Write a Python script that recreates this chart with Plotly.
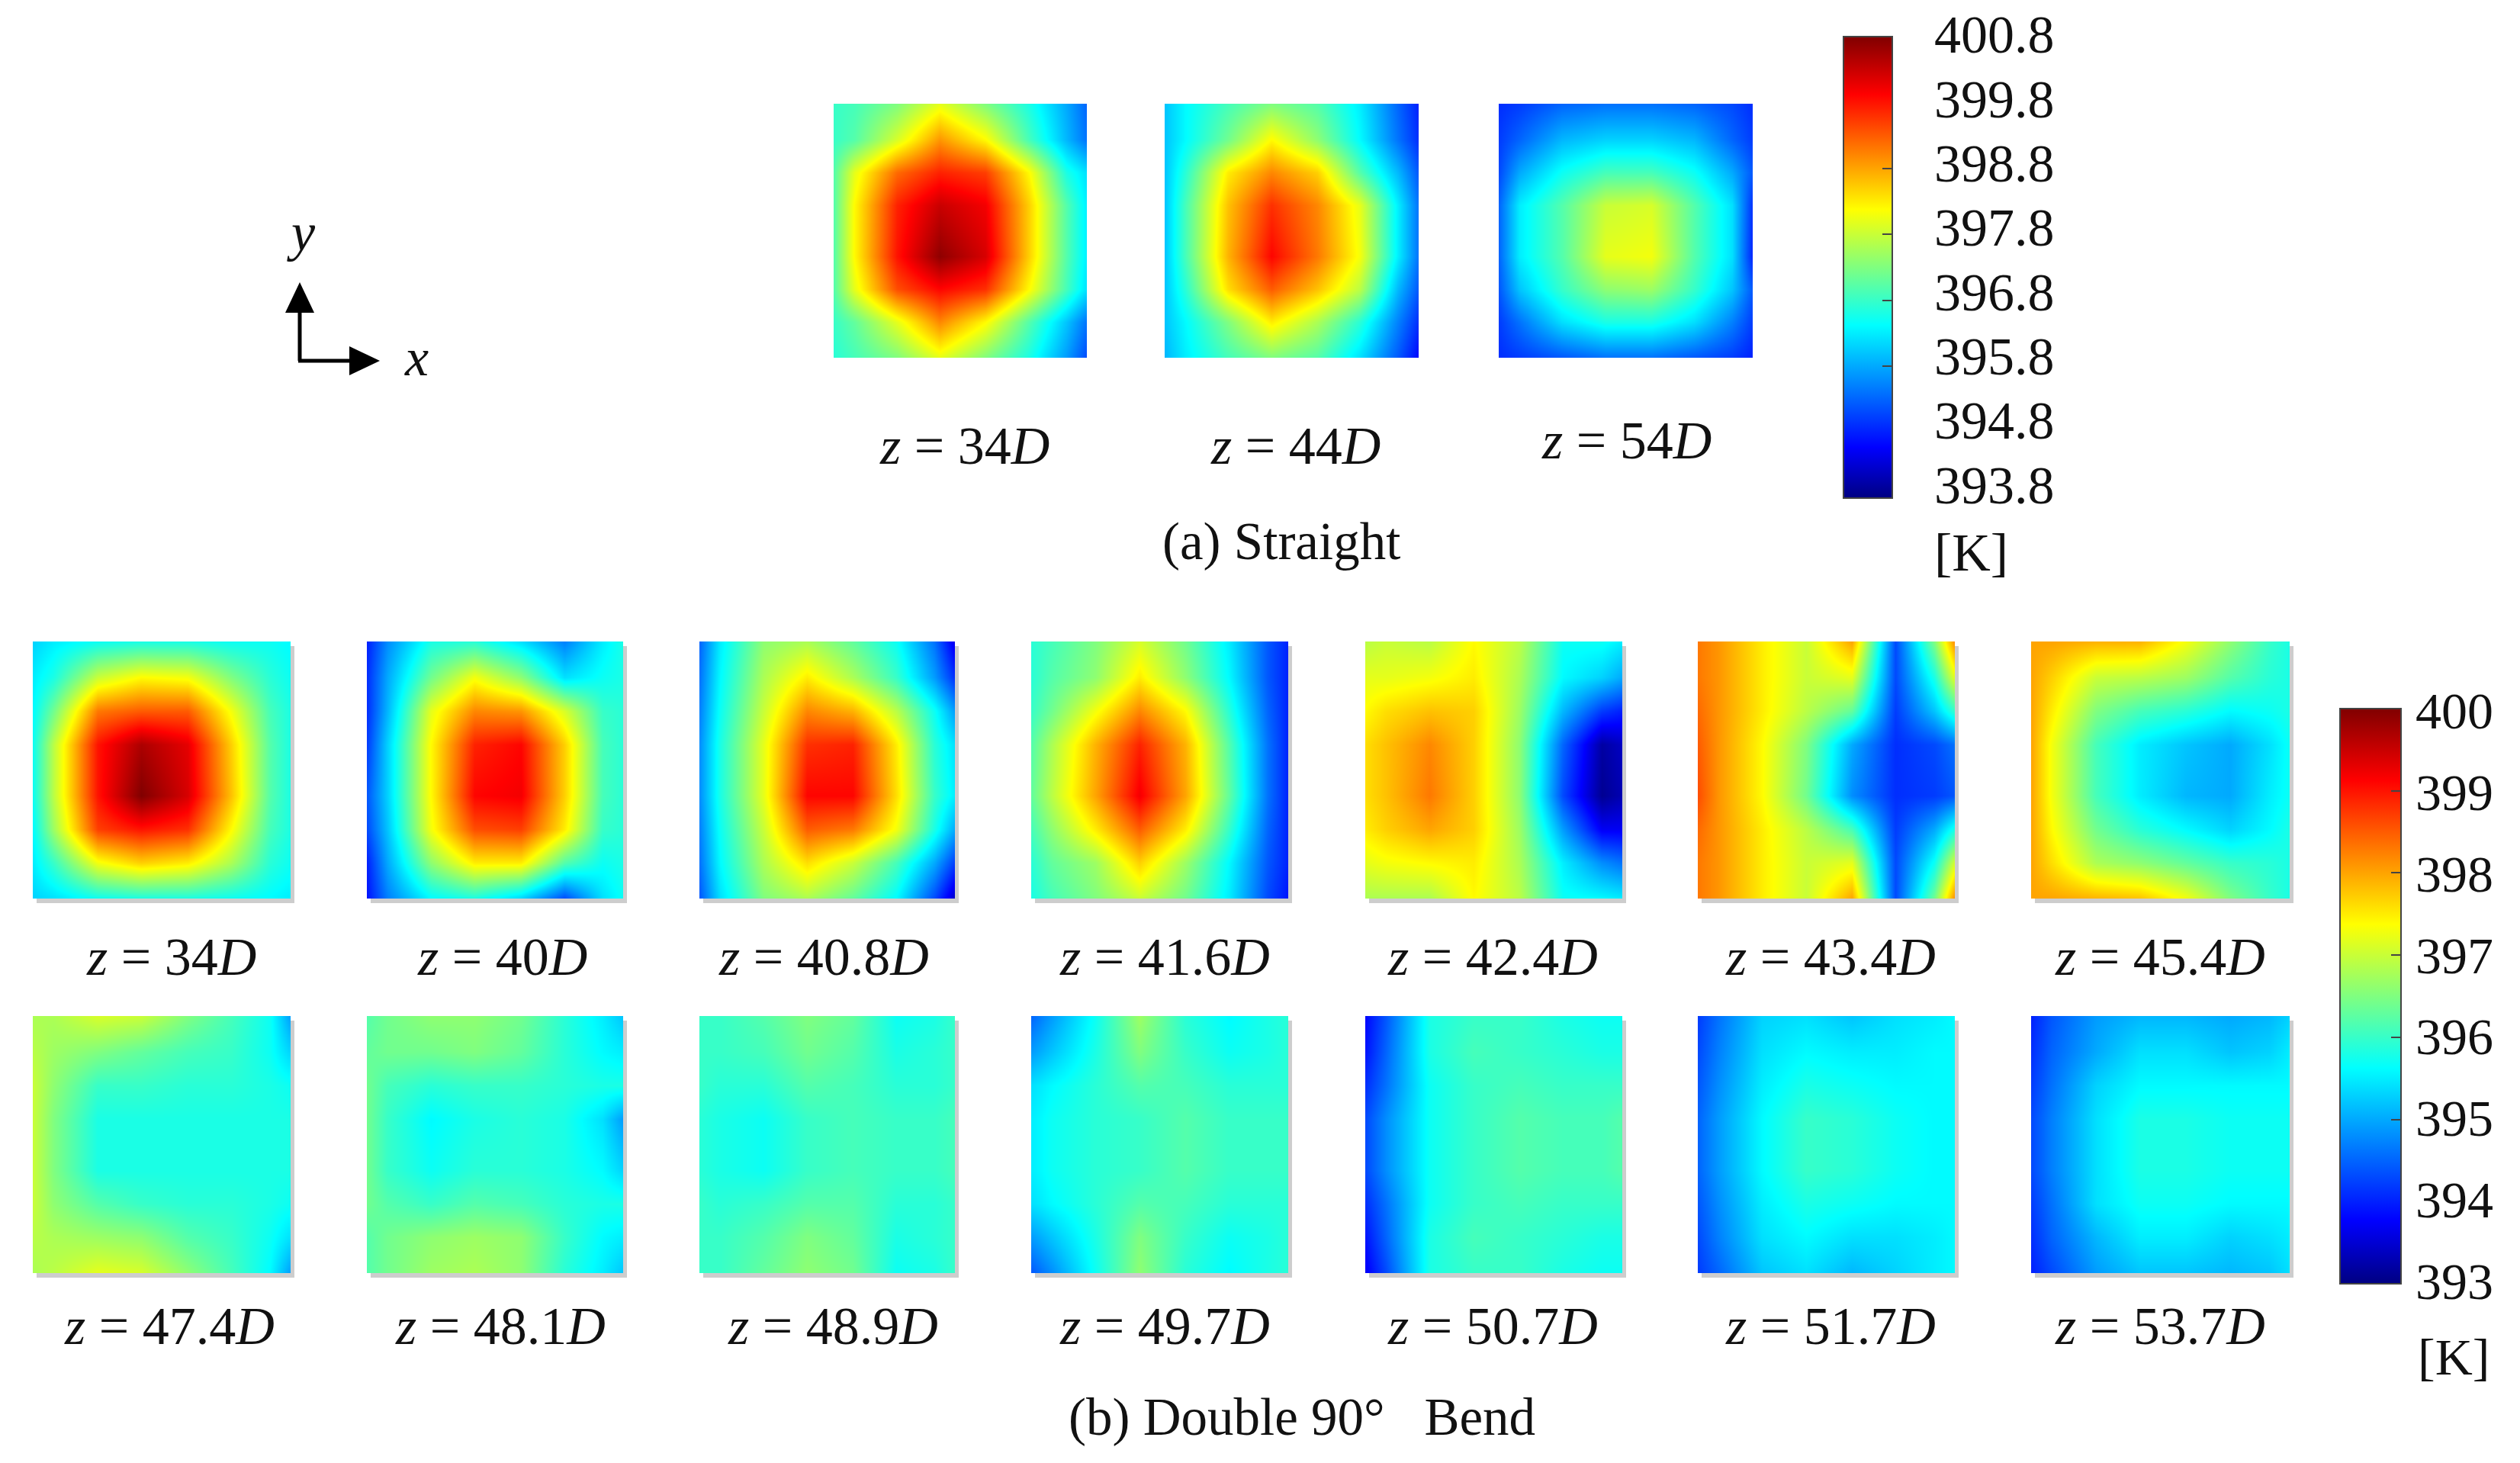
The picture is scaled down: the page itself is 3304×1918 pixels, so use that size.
import plotly.graph_objects as go

W, H = 3304, 1918

# Sampling positions across each cross-section (fractions of the width / height)
X_GRID = [0, .08, .25, .42, .6, .77, .92, 1]
Y_GRID = [0, .14, .27, .4, .6, .73, .86, 1]

# ---------- (a) Straight, temperature in K ----------
S_34 = [
 [396.8,396.9,397.3,398.0,397.3,396.6,395.8,395.3],
 [396.8,397.0,397.9,398.9,398.2,396.9,395.9,395.4],
 [397.0,398.0,399.2,399.7,399.5,398.2,396.6,396.2],
 [397.0,398.2,399.7,400.3,400.0,398.5,397.0,396.3],
 [397.0,398.2,399.8,400.7,400.2,398.5,397.0,396.3],
 [397.0,398.0,399.4,399.9,399.6,398.2,396.9,396.2],
 [396.8,397.1,398.0,399.0,398.2,397.0,396.0,395.4],
 [396.7,396.9,397.3,398.0,397.3,396.6,395.7,395.1]]
S_44 = [
 [396.0,396.4,396.9,397.3,397.0,396.3,395.3,394.8],
 [396.0,396.4,397.2,398.2,397.4,396.4,395.4,394.9],
 [396.0,396.7,398.3,399.0,398.5,397.0,395.9,395.2],
 [396.0,396.9,398.6,399.6,399.0,398.0,396.3,395.4],
 [396.0,396.9,398.7,399.9,399.1,398.1,396.3,395.4],
 [396.0,396.7,398.4,399.3,398.6,397.7,395.9,395.2],
 [396.0,396.4,397.3,398.3,397.6,396.7,395.5,394.9],
 [395.9,396.3,396.9,397.3,397.0,396.2,395.2,394.6]]
S_54 = [
 [394.9,395.0,395.3,395.4,395.4,395.3,395.1,394.9],
 [395.0,395.3,395.9,396.1,396.1,395.9,395.3,395.0],
 [395.1,395.8,396.5,396.9,396.9,396.5,395.8,395.2],
 [395.3,396.3,397.0,397.8,397.9,397.0,396.2,394.9],
 [395.3,396.3,397.0,398.0,398.1,397.0,396.2,394.8],
 [395.2,396.0,396.8,397.4,397.5,396.8,396.0,395.2],
 [395.0,395.4,396.2,396.6,396.6,396.2,395.5,395.0],
 [394.9,395.0,395.2,395.4,395.4,395.2,395.0,394.8]]

# ---------- (b) Double 90 deg bend, temperature in K ----------
B_34 = [
 [395.3,395.5,395.7,395.8,395.8,395.7,395.7,395.6],
 [395.5,395.8,397.0,397.4,397.3,396.5,395.9,395.7],
 [395.6,396.4,398.3,398.5,398.5,397.3,396.1,395.8],
 [395.7,396.9,399.0,399.7,399.3,397.7,396.2,395.8],
 [395.7,396.9,399.0,400.0,399.4,397.8,396.2,395.8],
 [395.6,396.7,398.7,399.0,398.8,397.4,396.1,395.8],
 [395.5,396.0,397.3,397.7,397.5,396.8,395.9,395.7],
 [395.3,395.4,395.7,395.8,395.8,395.7,395.6,395.5]]
B_40 = [
 [394.0,394.8,395.8,395.9,395.4,394.7,395.5,395.8],
 [394.1,395.0,396.4,397.3,396.6,395.4,395.7,395.8],
 [394.1,395.1,397.2,398.2,398.1,397.1,396.0,395.9],
 [394.2,395.3,397.4,398.9,399.1,397.7,396.1,395.9],
 [394.4,395.3,397.4,399.1,399.2,397.7,396.1,395.9],
 [394.3,395.2,397.3,398.6,398.7,397.5,396.0,395.9],
 [394.0,395.0,396.6,397.5,397.5,396.2,395.7,395.8],
 [393.9,394.7,395.6,395.8,395.3,394.3,395.4,395.7]]
B_408 = [
 [394.5,395.5,396.6,396.8,396.3,395.7,394.6,393.6],
 [394.6,395.6,396.8,397.5,396.8,396.0,394.9,394.1],
 [394.7,395.7,397.0,398.2,397.9,396.9,395.7,394.9],
 [394.8,395.8,397.2,398.8,398.9,397.5,395.9,395.4],
 [394.8,395.8,397.2,399.1,399.1,397.6,396.0,395.5],
 [394.7,395.7,397.0,398.5,398.3,397.3,395.8,395.0],
 [394.6,395.6,396.8,397.6,397.0,396.1,395.0,394.2],
 [394.4,395.4,396.5,396.8,396.3,395.6,394.3,393.4]]
B_416 = [
 [395.9,396.1,396.5,397.1,396.4,395.5,394.4,394.0],
 [395.9,396.2,396.6,397.5,396.6,395.6,394.4,394.0],
 [396.0,396.4,397.3,398.2,397.4,395.9,394.5,394.0],
 [396.2,396.8,397.9,398.9,397.9,396.2,394.6,394.0],
 [396.3,396.9,398.0,399.2,398.0,396.3,394.6,394.0],
 [396.1,396.6,397.5,398.5,397.5,396.0,394.5,394.0],
 [395.9,396.3,396.7,397.7,396.7,395.6,394.4,394.0],
 [395.8,396.1,396.5,397.0,396.4,395.5,394.3,393.9]]
B_424 = [
 [396.9,397.0,396.9,397.4,396.9,395.7,395.7,395.5],
 [397.2,397.2,397.3,397.5,396.8,395.6,395.3,395.0],
 [397.4,397.6,397.8,397.7,396.7,395.1,394.2,394.0],
 [397.6,397.8,398.2,397.7,396.6,394.5,393.2,393.4],
 [397.6,397.8,398.3,397.7,396.6,394.3,393.1,393.3],
 [397.5,397.7,398.0,397.7,396.7,394.9,393.7,393.7],
 [397.2,397.3,397.4,397.5,396.8,395.5,394.8,394.6],
 [396.8,396.8,396.8,397.4,396.9,395.7,395.6,395.5]]
B_434 = [
 [398.3,398.1,397.5,397.0,398.0,394.3,396.5,398.2],
 [398.3,398.1,397.5,397.0,397.2,394.3,395.8,397.2],
 [398.4,398.1,397.5,396.9,396.3,394.2,395.2,396.0],
 [398.5,398.1,397.4,396.5,395.0,394.1,394.3,394.6],
 [398.6,398.1,397.4,396.4,394.8,394.1,394.2,394.4],
 [398.4,398.1,397.5,396.9,396.1,394.2,395.0,395.8],
 [398.3,398.1,397.5,397.0,397.2,394.3,395.7,397.1],
 [398.3,398.1,397.5,397.0,398.0,394.3,396.4,398.2]]
B_454 = [
 [398.0,398.0,397.9,397.9,397.3,396.6,396.0,395.8],
 [398.0,397.7,397.0,396.9,396.7,396.2,395.9,395.8],
 [398.0,397.5,396.5,396.1,395.9,395.6,395.7,395.8],
 [398.0,397.3,396.1,395.5,395.2,395.0,395.4,395.7],
 [398.0,397.3,396.1,395.5,395.1,395.0,395.5,395.7],
 [398.0,397.4,396.4,395.9,395.6,395.3,395.6,395.8],
 [398.0,397.6,396.8,396.6,396.3,396.0,395.9,395.8],
 [398.0,398.0,397.9,397.8,397.3,396.5,396.0,395.8]]
B_474 = [
 [396.8,396.8,397.1,397.0,396.5,396.1,395.7,394.9],
 [396.9,396.7,396.5,396.3,396.1,396.0,395.7,395.3],
 [397.0,396.6,396.0,396.0,395.9,395.9,395.8,395.7],
 [397.0,396.5,395.8,395.8,395.8,395.8,395.8,395.8],
 [397.0,396.5,395.8,395.8,395.8,395.8,395.8,395.8],
 [397.0,396.6,396.2,396.0,395.9,395.9,395.8,395.7],
 [396.9,396.8,396.7,396.6,396.2,396.0,395.7,395.4],
 [396.8,396.9,397.2,397.1,396.6,396.1,395.6,394.9]]
B_481 = [
 [396.2,396.4,396.6,396.6,396.4,395.9,395.5,395.2],
 [396.3,396.4,396.4,396.5,396.3,395.9,395.6,395.5],
 [396.4,396.1,395.9,396.0,396.0,395.9,395.8,395.8],
 [396.4,396.0,395.6,395.8,395.9,395.8,395.4,394.9],
 [396.4,396.0,395.7,395.9,395.9,395.8,395.6,395.3],
 [396.4,396.2,396.0,396.2,396.1,395.9,395.8,395.8],
 [396.2,396.4,396.6,396.7,396.6,396.0,395.6,395.5],
 [396.2,396.4,396.7,396.8,396.6,395.9,395.5,395.2]]
B_489 = [
 [396.0,396.0,396.2,396.5,396.3,395.7,395.8,396.0],
 [396.0,396.0,396.1,396.4,396.2,395.8,395.9,396.0],
 [396.0,395.9,395.9,396.2,396.1,395.9,395.9,396.0],
 [395.9,395.8,395.7,396.0,396.1,396.0,396.0,396.1],
 [395.9,395.8,395.7,396.0,396.1,396.0,396.0,396.1],
 [396.0,395.9,396.0,396.2,396.2,395.9,395.9,396.0],
 [396.0,396.0,396.2,396.5,396.3,395.8,395.9,396.0],
 [396.0,396.0,396.3,396.6,396.4,395.7,395.8,396.0]]
B_497 = [
 [394.5,394.9,395.7,396.7,395.9,395.6,395.8,395.9],
 [394.9,395.2,395.8,396.5,396.0,395.7,395.8,395.9],
 [395.4,395.6,395.9,396.2,396.1,395.9,395.9,395.9],
 [395.5,395.7,395.9,396.0,396.2,396.0,396.0,396.0],
 [395.5,395.7,395.9,396.0,396.2,396.0,396.0,396.0],
 [395.4,395.6,395.9,396.2,396.1,395.9,395.9,395.9],
 [394.9,395.2,395.8,396.5,396.0,395.7,395.8,395.9],
 [394.4,394.8,395.7,396.6,395.9,395.6,395.8,395.9]]
B_507 = [
 [393.8,394.4,395.8,396.0,396.0,395.8,395.7,395.7],
 [393.9,394.5,395.8,396.1,396.0,395.9,395.8,395.8],
 [394.1,394.6,395.7,396.0,396.1,396.0,396.0,396.0],
 [394.3,394.8,395.7,396.0,396.2,396.1,396.1,396.2],
 [394.3,394.8,395.7,396.0,396.2,396.1,396.1,396.2],
 [394.1,394.6,395.7,396.0,396.1,396.0,396.0,396.0],
 [393.9,394.5,395.8,396.1,396.0,395.9,395.8,395.8],
 [393.7,394.3,395.8,396.0,396.0,395.8,395.7,395.7]]
B_517 = [
 [394.2,394.6,395.3,395.4,395.2,395.4,395.5,395.6],
 [394.3,394.7,395.4,395.6,395.5,395.5,395.6,395.6],
 [394.4,394.8,395.5,395.8,395.7,395.6,395.6,395.6],
 [394.5,394.9,395.6,396.0,395.9,395.7,395.6,395.6],
 [394.5,394.9,395.6,396.0,395.9,395.7,395.6,395.6],
 [394.4,394.8,395.5,395.8,395.7,395.6,395.6,395.6],
 [394.3,394.7,395.4,395.6,395.4,395.4,395.5,395.6],
 [394.2,394.5,395.2,395.4,395.1,395.3,395.5,395.6]]
B_537 = [
 [394.0,394.4,394.9,395.1,395.1,395.0,395.1,395.3],
 [394.1,394.5,395.0,395.4,395.4,395.2,395.3,395.5],
 [394.2,394.6,395.3,395.6,395.6,395.6,395.6,395.6],
 [394.3,394.7,395.4,395.8,395.8,395.7,395.7,395.7],
 [394.3,394.7,395.4,395.8,395.8,395.7,395.7,395.7],
 [394.2,394.6,395.4,395.7,395.7,395.6,395.6,395.6],
 [394.1,394.5,395.1,395.5,395.5,395.3,395.4,395.5],
 [394.0,394.3,394.9,395.2,395.2,395.1,395.2,395.4]]

LABELS_A = ["34", "44", "54"]
LABELS_B1 = ["34", "40", "40.8", "41.6", "42.4", "43.4", "45.4"]
LABELS_B2 = ["47.4", "48.1", "48.9", "49.7", "50.7", "51.7", "53.7"]
TICKS_A = ["400.8", "399.8", "398.8", "397.8", "396.8", "395.8", "394.8", "393.8"]
TICKS_B = ["400", "399", "398", "397", "396", "395", "394", "393"]
TICKVALS_A = [398.8, 397.8, 396.8, 395.8]
TICKVALS_B = [399, 398, 397, 396, 395]

FIELDS_A = [S_34, S_44, S_54]
FIELDS_B1 = [B_34, B_40, B_408, B_416, B_424, B_434, B_454]
FIELDS_B2 = [B_474, B_481, B_489, B_497, B_507, B_517, B_537]

JET = [[0, "rgb(0,0,130)"], [.11, "rgb(0,0,255)"], [.375, "rgb(0,255,255)"],
       [.625, "rgb(255,255,0)"], [.875, "rgb(255,0,0)"], [1, "rgb(128,0,0)"]]
SERIF = "Liberation Serif"


def px(x):
    return x / W


def py(y):
    return 1 - y / H


fig = go.Figure()
shapes, notes = [], []
counter = [0]


def add_text(x, y, text, size=70, anchor="center"):
    notes.append(dict(x=px(x), y=py(y), xref="paper", yref="paper", text=text, showarrow=False,
                      xanchor=anchor, yanchor="middle", font=dict(family=SERIF, size=size, color="#111")))


def add_panel(field, x0, x1, y0, y1, axis, shadow=True):
    counter[0] += 1
    n = counter[0]
    suffix = "" if n == 1 else str(n)
    fig.add_trace(go.Heatmap(z=field, x=X_GRID, y=Y_GRID, zsmooth="best", coloraxis=axis,
                             xaxis="x" + suffix, yaxis="y" + suffix, hoverinfo="skip"))
    fig.update_layout({
        "xaxis" + suffix: dict(domain=[px(x0), px(x1)], range=[0, 1], visible=False, anchor="y" + suffix, fixedrange=True),
        "yaxis" + suffix: dict(domain=[py(y1), py(y0)], range=[1, 0], visible=False, anchor="x" + suffix, fixedrange=True),
    })
    if shadow:
        shapes.append(dict(type="rect", xref="paper", yref="paper", layer="below",
                           x0=px(x0 + 5), x1=px(x1 + 5), y0=py(y1 + 6), y1=py(y0 + 6),
                           fillcolor="#cdcdcd", line_width=0))


def z_label(cx, cy, value):
    add_text(cx, cy, f"<i>z</i> = {value}<i>D</i>")


# Panels (a)
A_X = [(1093, 1425), (1527, 1860), (1965, 2298)]
A_LABEL_POS = [(1264, 584), (1698, 584), (2132, 577)]
for f, (x0, x1), (cx, cy), lab in zip(FIELDS_A, A_X, A_LABEL_POS, LABELS_A):
    add_panel(f, x0, x1, 136, 469, "coloraxis", shadow=False)
    z_label(cx, cy, lab)

# Panels (b)
B_X = [(43, 381), (481, 817), (917, 1252), (1352, 1689), (1790, 2127), (2226, 2563), (2663, 3002)]
B1_CX = [224, 658, 1080, 1527, 1957, 2400, 2832]
B2_CX = [222, 656, 1092, 1527, 1957, 2400, 2832]
for f, (x0, x1), cx, lab in zip(FIELDS_B1, B_X, B1_CX, LABELS_B1):
    add_panel(f, x0, x1, 841, 1178, "coloraxis2")
    z_label(cx, 1254, lab)
for f, (x0, x1), cx, lab in zip(FIELDS_B2, B_X, B2_CX, LABELS_B2):
    add_panel(f, x0, x1, 1332, 1669, "coloraxis2")
    z_label(cx, 1738, lab)

add_text(1680, 710, "(a) Straight", 69)
add_text(1707, 1858, "(b) Double 90°\u00a0\u00a0\u00a0Bend", 69)

# Colour-bar labels
for i, t in enumerate(TICKS_A):
    add_text(2534, 46 + i * (636 - 46) / 7, t, 70, "left")
add_text(2534, 724, "[K]", 70, "left")
for i, t in enumerate(TICKS_B):
    add_text(3165, 932 + i * (1680 - 932) / 7, t, 68, "left")
add_text(3168, 1779, "[K]", 68, "left")

# Coordinate glyph
line = dict(color="black", width=5)
shapes.append(dict(type="line", xref="paper", yref="paper", x0=px(393), x1=px(393), y0=py(473), y1=py(405), line=line))
shapes.append(dict(type="line", xref="paper", yref="paper", x0=px(391), x1=px(460), y0=py(473), y1=py(473), line=line))
shapes.append(dict(type="path", xref="paper", yref="paper", fillcolor="black", line_width=0,
                   path=f"M {px(374)} {py(410)} L {px(412)} {py(410)} L {px(393)} {py(370)} Z"))
shapes.append(dict(type="path", xref="paper", yref="paper", fillcolor="black", line_width=0,
                   path=f"M {px(458)} {py(454)} L {px(458)} {py(492)} L {px(498)} {py(473)} Z"))
add_text(395, 304, "<i>y</i>", 70)
add_text(546, 468, "<i>x</i>", 70)


def cbar(x, y, length, thick, vals):
    return dict(x=px(x), xanchor="left", y=py(y), yanchor="top", lenmode="pixels", len=length,
                thicknessmode="pixels", thickness=thick, xpad=0, ypad=0,
                outlinewidth=2, outlinecolor="#444",
                tickmode="array", tickvals=vals, ticks="inside", ticklen=14, tickwidth=2,
                tickcolor="#444", showticklabels=False)


fig.update_layout(
    width=W, height=H, autosize=False, margin=dict(l=0, r=0, t=0, b=0, pad=0),
    paper_bgcolor="white", plot_bgcolor="white", showlegend=False,
    coloraxis=dict(colorscale=JET, cmin=393.8, cmax=400.8, colorbar=cbar(2417, 48, 605, 64, TICKVALS_A)),
    coloraxis2=dict(colorscale=JET, cmin=393, cmax=400, colorbar=cbar(3068, 929, 754, 80, TICKVALS_B)),
    shapes=shapes, annotations=notes,
)

fig.write_html("out.html", post_script="document.body.style.margin='0';", config={"displayModeBar": False})
